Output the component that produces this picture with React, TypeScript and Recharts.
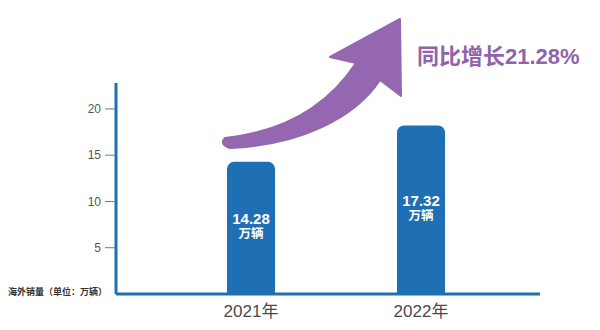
import React from 'react';
import { BarChart, Bar, XAxis, YAxis, LabelList } from 'recharts';

const years = ['2021年', '2022年'];
const barHeights = [14.28, 18.2];
const valueLabels = ['14.28', '17.32'];
const yTicks = [5, 10, 15, 20];
const unitText = '万辆';
const growthText = '同比增长21.28%';
const axisTitle = '海外销量（单位：万辆）';

const data = years.map((year, i) => ({
    year,
    sales: barHeights[i],
    label: valueLabels[i],
}));

const FONT = "'Liberation Sans', Arial, 'Noto Sans CJK SC', sans-serif";
const BLUE = '#1f6fb5';
const PURPLE = '#9467b0';

const BarValue = (props: any) => {
    const { x, y, width, height, value } = props;
    const cx = x + width / 2;
    const mid = y + height / 2;
    return (
        <g fontFamily={FONT} fontWeight="bold" fill="#fff" textAnchor="middle">
            <text x={cx} y={mid - 9} dy="0.36em" fontSize={15}>{value}</text>
            <text x={cx} y={mid + 6} dy="0.36em" fontSize={12.5}>{unitText}</text>
        </g>
    );
};

const App: React.FC = () => {
    return (
        <div style={{ position: 'absolute', left: 0, top: 0, width: 600, height: 330 }}>
            <BarChart
                width={600}
                height={330}
                data={data}
                margin={{ top: 83, right: 60, bottom: 6, left: 0 }}
            >
                <XAxis
                    dataKey="year"
                    height={30}
                    padding={{ left: 50, right: 34 }}
                    axisLine={{ stroke: BLUE, strokeWidth: 3 }}
                    tickLine={false}
                    tickSize={0}
                    tickMargin={11}
                    tick={{ fontSize: 17, fill: '#4a4a4a', fontFamily: FONT }}
                />
                <YAxis
                    width={116}
                    domain={[0, 22.8]}
                    ticks={yTicks}
                    allowDataOverflow
                    axisLine={{ stroke: BLUE, strokeWidth: 3 }}
                    tickLine={{ stroke: '#777', strokeWidth: 1 }}
                    tickSize={11}
                    tickMargin={4}
                    tick={{ fontSize: 12, fill: '#555', fontFamily: FONT }}
                />
                <Bar dataKey="sales" fill={BLUE} barSize={48} radius={[7, 7, 0, 0]} isAnimationActive={false}>
                    <LabelList dataKey="label" content={BarValue} />
                </Bar>
            </BarChart>
            <svg
                width={600}
                height={330}
                style={{ position: 'absolute', left: 0, top: 0, pointerEvents: 'none' }}
            >
                {/* growth arrow */}
                <path
                    d="M225,138 C280,132 325,110 356,63 L330,57 L400,19 L401,96 L380,80 C355,118 300,145 230,148 Q219,144 225,138 Z"
                    fill={PURPLE}
                    stroke={PURPLE}
                    strokeWidth={2}
                    strokeLinejoin="round"
                />
                <text x={417} y={63.5} fontSize={22} fontWeight="bold" fill="#9063ac" fontFamily={FONT}>
                    {growthText}
                </text>
                <text x={8} y={294.5} fontSize={9} fontWeight="bold" fill="#333" fontFamily={FONT}>
                    {axisTitle}
                </text>
            </svg>
        </div>
    );
};

export default App;
